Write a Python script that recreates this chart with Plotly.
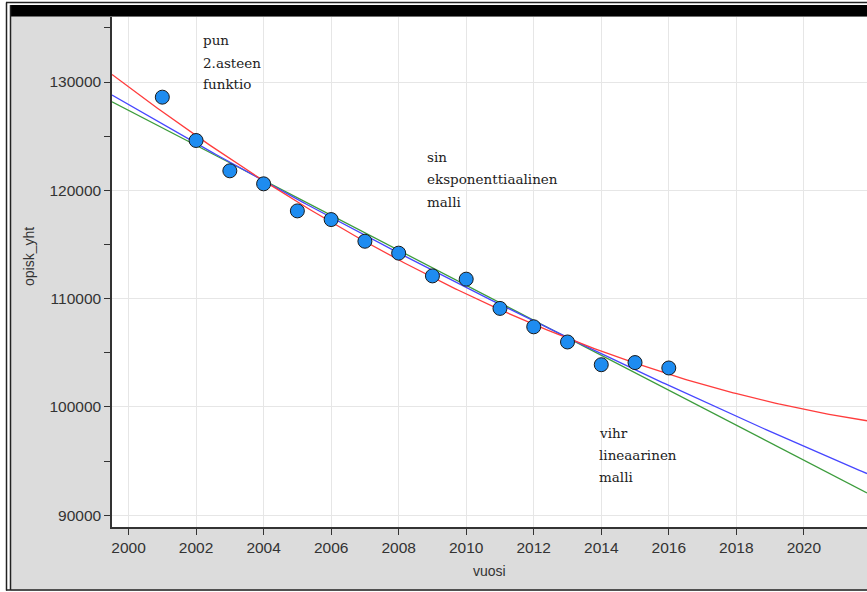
import numpy as np
import plotly.graph_objects as go

# Opiskelijat yhteensä vuosittain
vuosi = [2001, 2002, 2003, 2004, 2005, 2006, 2007, 2008,
         2009, 2010, 2011, 2012, 2013, 2014, 2015, 2016]
opisk_yht = [128600, 124600, 121800, 120600, 118100, 117300, 115300, 114200,
             112100, 111800, 109100, 107400, 106000, 103900, 104100, 103600]

x_ticks = list(range(2000, 2021, 2))
y_ticks = [90000, 100000, 110000, 120000, 130000]

X_RANGE = [1999.51, 2021.87]
Y_RANGE = [88920, 136000]

# Regressiomallit
x = np.array(vuosi, dtype=float)
y = np.array(opisk_yht, dtype=float)
xc = x - 2000.0
lin = np.polyfit(xc, y, 1)
quad = np.polyfit(xc, y, 2)
expo = np.polyfit(xc, np.log(y), 1)

xs = np.linspace(X_RANGE[0], X_RANGE[1], 300)
xsc = xs - 2000.0
y_lin = np.polyval(lin, xsc)
y_quad = np.polyval(quad, xsc)
y_exp = np.exp(np.polyval(expo, xsc))

fig = go.Figure()
fig.add_trace(go.Scatter(x=xs, y=y_lin, mode="lines",
                         line=dict(color="#3C9C3C", width=1.3), hoverinfo="skip"))
fig.add_trace(go.Scatter(x=xs, y=y_exp, mode="lines",
                         line=dict(color="#4646FF", width=1.3), hoverinfo="skip"))
fig.add_trace(go.Scatter(x=xs, y=y_quad, mode="lines",
                         line=dict(color="#FF3C3C", width=1.3), hoverinfo="skip"))
fig.add_trace(go.Scatter(x=vuosi, y=opisk_yht, mode="markers",
                         marker=dict(size=14, color="#1E8CF0",
                                     line=dict(color="#1A1A1A", width=1))))

W, H = 867, 592
L, R, T, B = 112, 0, 17, 65
pw, ph = W - L - R, H - T - B


def px(xp):
    return (xp - L) / pw


def py(yp):
    return (H - B - yp) / ph


serif = dict(family="DejaVu Serif", size=13.5, color="#222222")
notes = [
    ("pun", 2002.16, 133850), ("2.asteen", 2002.16, 131800), ("funktio", 2002.16, 129800),
    ("sin", 2008.79, 123050), ("eksponenttiaalinen", 2008.79, 121050), ("malli", 2008.79, 118950),
    ("vihr", 2013.87, 97600), ("lineaarinen", 2013.87, 95600), ("malli", 2013.87, 93550),
]
annotations = [dict(text=t, x=ax, y=ay, xref="x", yref="y", xanchor="left",
                    yanchor="middle", showarrow=False, font=serif)
               for t, ax, ay in notes]

sans = dict(family="Liberation Sans", size=14, color="#333333")
annotations.append(dict(text="vuosi", x=0.5, y=py(571), xref="paper", yref="paper",
                        xanchor="center", yanchor="middle", showarrow=False, font=sans))
annotations.append(dict(text="opisk_yht", x=px(29), y=py(257), xref="paper", yref="paper",
                        xanchor="center", yanchor="middle", showarrow=False,
                        textangle=-90, font=sans))

frame = "#222222"
shapes = [
    # white outer strips
    dict(type="rect", xref="paper", yref="paper", x0=px(0), x1=px(11), y0=py(592), y1=py(0),
         fillcolor="white", line_width=0, layer="above"),
    dict(type="rect", xref="paper", yref="paper", x0=px(0), x1=px(W), y0=py(5), y1=py(0),
         fillcolor="white", line_width=0, layer="above"),
    dict(type="rect", xref="paper", yref="paper", x0=px(0), x1=px(W), y0=py(592), y1=py(591),
         fillcolor="white", line_width=0, layer="above"),
    # black title bar
    dict(type="rect", xref="paper", yref="paper", x0=px(10), x1=px(W), y0=py(16.5), y1=py(5),
         fillcolor="black", line_width=0, layer="above"),
    # frame lines
    dict(type="line", xref="paper", yref="paper", x0=px(6.5), x1=px(6.5), y0=py(2.5), y1=py(590.5),
         line=dict(color=frame, width=1.5), layer="above"),
    dict(type="line", xref="paper", yref="paper", x0=px(10.5), x1=px(10.5), y0=py(5), y1=py(590),
         line=dict(color=frame, width=1.5), layer="above"),
    dict(type="line", xref="paper", yref="paper", x0=px(6), x1=px(W), y0=py(2.5), y1=py(2.5),
         line=dict(color=frame, width=1.5), layer="above"),
    dict(type="line", xref="paper", yref="paper", x0=px(6), x1=px(W), y0=py(590), y1=py(590),
         line=dict(color=frame, width=1.5), layer="above"),
]

tickfont = dict(family="Liberation Sans", size=15.5, color="#333333")

fig.update_layout(
    width=W, height=H,
    margin=dict(l=L, r=R, t=T, b=B, pad=0),
    paper_bgcolor="#DCDCDC",
    plot_bgcolor="white",
    showlegend=False,
    annotations=annotations,
    shapes=shapes,
    xaxis=dict(range=X_RANGE, tickvals=x_ticks, tickformat="d",
               showgrid=True, gridcolor="#E6E6E6", gridwidth=1.2,
               ticks="outside", ticklen=6, tickwidth=1.3, tickcolor="#333333",
               showline=True, linecolor="#333333", linewidth=1.5,
               zeroline=False, tickfont=tickfont),
    yaxis=dict(range=Y_RANGE, tickvals=y_ticks, tickformat="d",
               showgrid=True, gridcolor="#E6E6E6", gridwidth=1.2,
               ticks="outside", ticklen=6, tickwidth=1.3, tickcolor="#333333",
               minor=dict(dtick=5000, tick0=0, ticks="outside", ticklen=6,
                          tickwidth=1.3, tickcolor="#333333", showgrid=False),
               showline=True, linecolor="#333333", linewidth=1.5,
               zeroline=False, tickfont=tickfont),
)

fig.write_html("out.html")
